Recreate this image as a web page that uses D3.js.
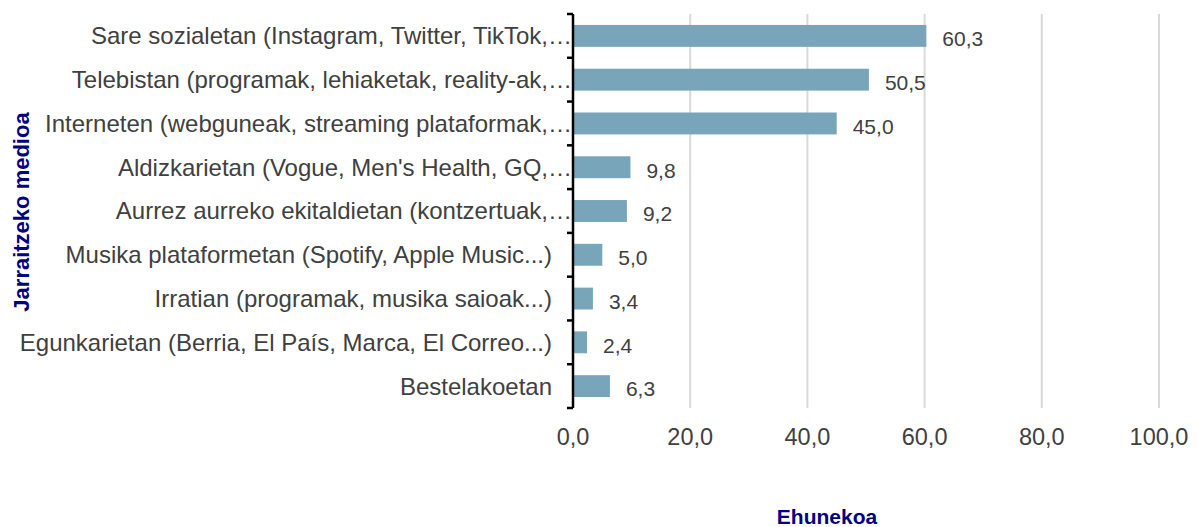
<!DOCTYPE html>
<html>
<head>
<meta charset="utf-8">
<script src="https://cdn.jsdelivr.net/npm/d3@7"></script>
<style>
  body { margin: 0; background: #fff; }
  svg { font-family: "Liberation Sans", Arial, sans-serif; }
</style>
</head>
<body>
<div id="chart"></div>
<script>
// datuak
const categories = [
  "Sare sozialetan (Instagram, Twitter, TikTok,…",
  "Telebistan (programak, lehiaketak, reality-ak,…",
  "Interneten (webguneak, streaming plataformak,…",
  "Aldizkarietan (Vogue, Men's Health, GQ,…",
  "Aurrez aurreko ekitaldietan (kontzertuak,…",
  "Musika plataformetan (Spotify, Apple Music...)",
  "Irratian (programak, musika saioak...)",
  "Egunkarietan (Berria, El País, Marca, El Correo...)",
  "Bestelakoetan"
];
const truncated = [true, true, true, true, true, false, false, false, false];
const values = [60.3, 50.5, 45.0, 9.8, 9.2, 5.0, 3.4, 2.4, 6.3];
const xTicks = [0, 20, 40, 60, 80, 100];

const width = 1199, height = 527;
const margin = { top: 14, right: 40, bottom: 119, left: 573 };

const locale = d3.formatLocale({ decimal: ",", thousands: ".", grouping: [3], currency: ["", "€"] });
const fmt = locale.format(".1f");

const svg = d3.select("#chart").append("svg")
  .attr("width", width)
  .attr("height", height);

const x = d3.scaleLinear().domain([0, 100]).range([margin.left, 1159]);
const y = d3.scaleBand().domain(categories).range([margin.top, height - margin.bottom])
  .paddingInner(0.5).paddingOuter(0.25);

// gridlines
svg.append("g").selectAll("line")
  .data(xTicks.slice(1))
  .join("line")
  .attr("x1", d => x(d)).attr("x2", d => x(d))
  .attr("y1", margin.top).attr("y2", height - margin.bottom)
  .attr("stroke", "#d9d9d9").attr("stroke-width", 2);

// barrak
svg.append("g").selectAll("rect")
  .data(values)
  .join("rect")
  .attr("x", x(0))
  .attr("y", (d, i) => y(categories[i]))
  .attr("width", d => x(d) - x(0))
  .attr("height", y.bandwidth())
  .attr("fill", "#78a5ba");

// balioak
svg.append("g").selectAll("text")
  .data(values)
  .join("text")
  .attr("x", d => x(d) + 16)
  .attr("y", (d, i) => y(categories[i]) + y.bandwidth() / 2 + 3)
  .attr("dy", "0.35em")
  .attr("fill", "#404040")
  .attr("font-size", 21)
  .text(d => fmt(d));

// y ardatza
const step = y.step();
const tickYs = categories.map(c => y(c) - step * 0.25).concat([height - margin.bottom]);
const yAxis = svg.append("g");
yAxis.append("line")
  .attr("x1", x(0)).attr("x2", x(0))
  .attr("y1", margin.top).attr("y2", height - margin.bottom)
  .attr("stroke", "#000").attr("stroke-width", 2.5);
yAxis.selectAll(".tk")
  .data(tickYs)
  .join("line")
  .attr("class", "tk")
  .attr("x1", x(0) - 6).attr("x2", x(0))
  .attr("y1", d => d).attr("y2", d => d)
  .attr("stroke", "#000").attr("stroke-width", 2.5);

yAxis.selectAll(".lbl")
  .data(categories)
  .join("text")
  .attr("class", "lbl")
  .attr("x", (d, i) => truncated[i] ? 572 : 552)
  .attr("y", d => y(d) + y.bandwidth() / 2)
  .attr("dy", "0.35em")
  .attr("text-anchor", "end")
  .attr("fill", "#404040")
  .attr("font-size", 24)
  .text(d => d);

// x ardatzeko etiketak
svg.append("g").selectAll("text")
  .data(xTicks)
  .join("text")
  .attr("x", d => x(d))
  .attr("y", 437)
  .attr("dy", "0.35em")
  .attr("text-anchor", "middle")
  .attr("fill", "#404040")
  .attr("font-size", 23.5)
  .text(d => fmt(d));

// ardatzen izenburuak
svg.append("text")
  .attr("x", 827).attr("y", 517)
  .attr("dy", "0.35em")
  .attr("text-anchor", "middle")
  .attr("font-weight", "bold")
  .attr("font-size", 21)
  .attr("fill", "#000080")
  .text("Ehunekoa");

svg.append("text")
  .attr("transform", "translate(21,212) rotate(-90)")
  .attr("dy", "0.35em")
  .attr("text-anchor", "middle")
  .attr("font-weight", "bold")
  .attr("font-size", 22)
  .attr("fill", "#000080")
  .text("Jarraitzeko medioa");
</script>
</body>
</html>
